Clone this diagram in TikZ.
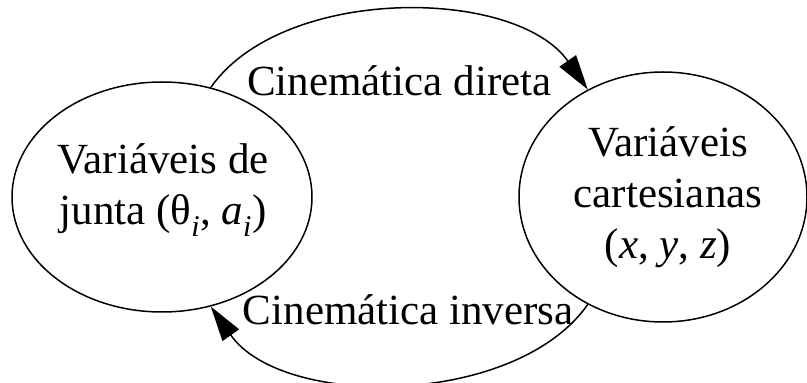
\documentclass[tikz,border=0pt]{standalone}
\usepackage{fontspec}
\setmainfont{Liberation Serif}
\usetikzlibrary{shapes.geometric,arrows.meta}
\tikzset{
vars/.style={
	  draw, ellipse, line width=1.5pt, inner sep=0pt},
kin/.style={
	  line width=1.5pt, -{Triangle[length=35pt,width=20pt]}},
rotulo/.style={
	  font=\fontsize{43}{51}\selectfont, align=center, inner sep=0pt}
}

\begin{document}
\begin{tikzpicture}[x=1pt, y=1pt]
	\useasboundingbox (0,0) rectangle (807,383);
	\node[vars, minimum width=300pt, minimum height=230pt] (junta) at (162,186) {};
	\node[vars, minimum width=288pt, minimum height=250pt] (cart) at (663,186) {};
	\node[rotulo] (juntatxt) at (163,193) {Variáveis de\\junta (θ\textsubscript{\textit{i}}, \textit{a}\textsubscript{\textit{i}})};
	\node[rotulo] (carttxt) at (668,186) {Variáveis\\cartesianas\\(\textit{x}, \textit{y}, \textit{z})};
	\draw[kin] (junta.66) to[out=55, in=125, looseness=0.85]
		node[rotulo, anchor=base, yshift=-84pt] (direta) {Cinemática direta} (cart.125);
	\draw[kin] (cart.235) to[out=-125, in=-55, looseness=0.85]
		node[rotulo, anchor=base, yshift=58pt, xshift=9pt] (inversa) {Cinemática inversa} (junta.294);
\end{tikzpicture}
\end{document}
